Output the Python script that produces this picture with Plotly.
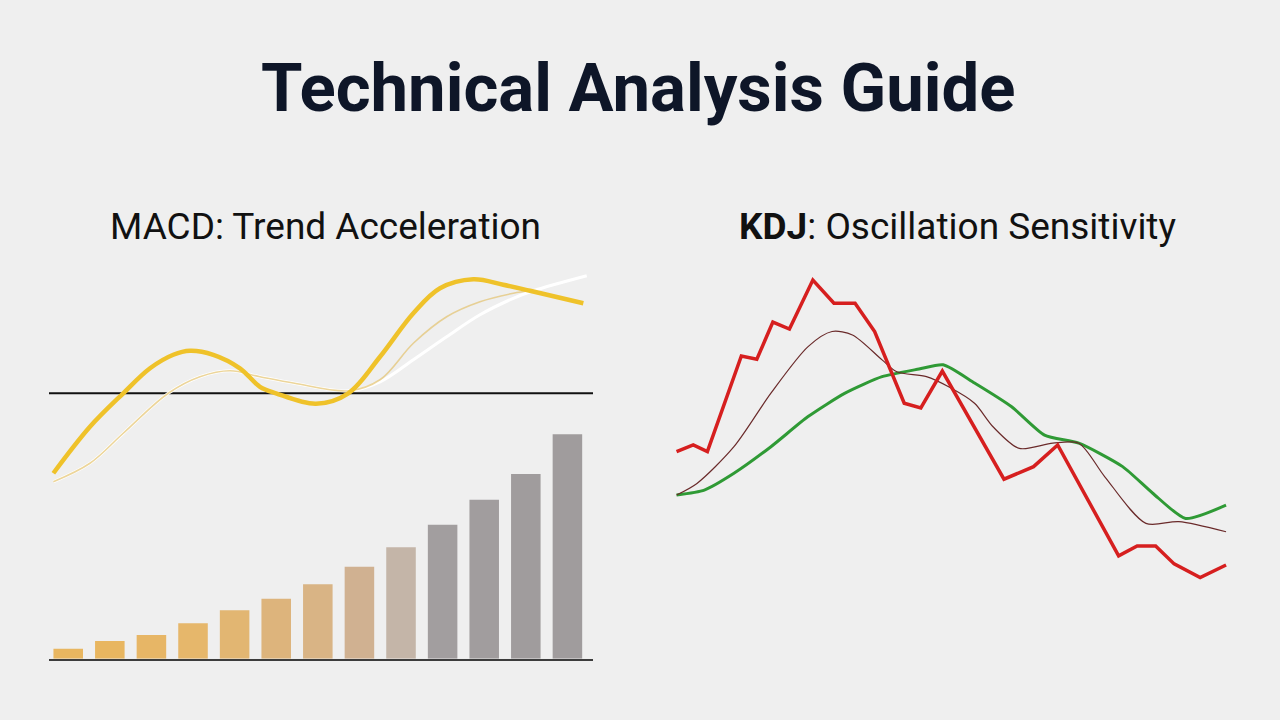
import plotly.graph_objects as go

# ---------------- data ----------------
# MACD panel (time index, value; zero line = 0)
macd_t = [0.32, 3.01, 5.46, 7.43, 9.14, 10.37, 12.08, 14.04, 15.51, 16.69, 19.63, 22.01,
          24.34, 26.79, 28.75, 31.2, 33.4, 35.37, 39.29]
macd_v = [-1.6, -0.67, 0.0, 0.5, 0.77, 0.85, 0.77, 0.5, 0.13, 0.0, -0.21, 0.0,
          0.73, 1.6, 2.1, 2.28, 2.17, 2.05, 1.8]

signal_t = [0.32, 3.01, 5.46, 8.77, 11.1, 13.31, 15.51, 18.05, 22.06, 24.34, 26.79,
            29.24, 31.69, 34.14, 35.61, 39.54]
signal_v = [-1.77, -1.4, -0.8, 0.0, 0.33, 0.45, 0.33, 0.2, 0.05, 0.23, 0.67,
            1.13, 1.57, 1.9, 2.05, 2.35]

avg_t = [0.32, 3.01, 5.46, 8.77, 11.1, 13.31, 15.51, 18.05, 22.06, 24.34, 26.79,
         29.24, 31.69, 34.14, 35.37]
avg_v = [-1.77, -1.4, -0.8, 0.0, 0.33, 0.45, 0.33, 0.2, 0.05, 0.27, 1.0,
         1.53, 1.83, 2.0, 2.05]

zero_t = [0, 40]
zero_v = [0, 0]

# Histogram bars
bar_idx = list(range(1, 14))
bar_val = [0.5, 0.89, 1.19, 1.77, 2.42, 3.0, 3.72, 4.6, 5.57, 6.7, 7.95, 9.24, 11.22]
bar_colors = ["#E8B660", "#E8B660", "#E7B666", "#E6B76B", "#E2B672", "#DDB47C", "#D9B485",
              "#D0B191", "#C4B5A8", "#A29E9F", "#A19D9E", "#A09C9D", "#A09C9D"]

# KDJ panel
j_t = [0.04, 1.26, 2.29, 4.77, 5.9, 7.07, 8.28, 9.99, 11.53, 13.07, 14.5, 16.66, 17.87,
       19.44, 23.94, 26.1, 27.86, 32.31, 33.66, 35.01, 36.36, 38.26, 40.15]
j_v = [42.4, 44.3, 42.4, 69.7, 68.8, 79.4, 77.4, 91.4, 84.8, 84.8, 76.7, 56.2, 54.9,
       65.4, 34.5, 38.1, 44.3, 12.6, 15.4, 15.4, 10.3, 6.4, 10.0]

k_t = [0.04, 1.53, 4.23, 6.93, 9.64, 11.39, 12.88, 15.04, 16.12, 18.28, 19.9, 21.79,
       23.14, 25.06, 27.5, 29.4, 31.3, 34.3, 36.7, 40.15]
k_v = [30.0, 33.3, 43.8, 59.1, 72.4, 76.7, 75.7, 68.6, 65.2, 63.8, 60.9, 56.2,
       49.5, 43.3, 44.8, 44.8, 35.2, 21.9, 22.4, 19.5]

d_t = [0.04, 2.07, 4.23, 6.93, 9.64, 12.34, 15.04, 17.74, 19.5, 21.79, 24.5, 26.9,
       29.4, 32.6, 34.8, 37.2, 40.15]
d_v = [30.0, 31.4, 36.2, 43.8, 52.4, 59.1, 63.8, 66.0, 67.2, 62.0, 55.2, 47.1,
       44.8, 38.1, 30.5, 23.3, 27.1]

title_text = "Technical Analysis Guide"
left_title = "MACD: Trend Acceleration"
right_title = "<b>KDJ</b>: Oscillation Sensitivity"

BG = "#efefef"

fig = go.Figure()

# MACD lines (axes x / y)
fig.add_trace(go.Scatter(x=zero_t, y=zero_v, mode="lines",
                         line=dict(color="#111111", width=2), xaxis="x", yaxis="y"))
fig.add_trace(go.Scatter(x=signal_t, y=signal_v, mode="lines", line_shape="spline",
                         line=dict(color="#ffffff", width=3), xaxis="x", yaxis="y"))
fig.add_trace(go.Scatter(x=avg_t, y=avg_v, mode="lines", line_shape="spline",
                         line=dict(color="rgba(226,190,100,0.65)", width=1.6), xaxis="x", yaxis="y"))
fig.add_trace(go.Scatter(x=macd_t, y=macd_v, mode="lines", line_shape="spline",
                         line=dict(color="#efc22a", width=4.5), xaxis="x", yaxis="y"))

# Histogram (axes x2 / y2)
fig.add_trace(go.Bar(x=bar_idx, y=bar_val, marker=dict(color=bar_colors, line_width=0),
                     width=0.71, xaxis="x2", yaxis="y2"))

# KDJ (axes x3 / y3)
fig.add_trace(go.Scatter(x=d_t, y=d_v, mode="lines", line_shape="spline",
                         line=dict(color="#2f9a35", width=3, smoothing=0.6), xaxis="x3", yaxis="y3"))
fig.add_trace(go.Scatter(x=k_t, y=k_v, mode="lines", line_shape="spline",
                         line=dict(color="#6a2a2a", width=1.2, smoothing=0.8), xaxis="x3", yaxis="y3"))
fig.add_trace(go.Scatter(x=j_t, y=j_v, mode="lines",
                         line=dict(color="#d61f1f", width=3.5), xaxis="x3", yaxis="y3"))

hidden = dict(visible=False, showgrid=False, zeroline=False, fixedrange=True)

fig.update_layout(
    width=1280, height=720,
    margin=dict(l=0, r=0, t=0, b=0),
    paper_bgcolor=BG, plot_bgcolor="rgba(0,0,0,0)",
    showlegend=False,
    xaxis=dict(domain=[0.03828, 0.46328], range=[0, 40], **hidden),
    yaxis=dict(domain=[0.3056, 0.6389], range=[-2.134, 2.666], **hidden),
    xaxis2=dict(domain=[0.03828, 0.46328], range=[0.538, 13.615], anchor="y2",
                showticklabels=False, showgrid=False, zeroline=False, ticks="",
                showline=True, linecolor="#3c3c3c", linewidth=2),
    yaxis2=dict(domain=[0.0851, 0.4185], range=[0, 12], anchor="x2", **hidden),
    xaxis3=dict(domain=[660 / 1280, 1240 / 1280], range=[-1.168, 41.168], anchor="y3", **hidden),
    yaxis3=dict(domain=[0.1667, 0.6528], range=[0, 100], anchor="x3", **hidden),
    annotations=[
        dict(text=f"<b>{title_text}</b>", x=637.5 / 1280, y=1 - 88 / 720, xref="paper", yref="paper",
             xanchor="center", yanchor="middle", showarrow=False,
             font=dict(family="Roboto", size=67, color="#0e1628", weight=900)),
        dict(text=left_title, x=325 / 1280, y=1 - 226 / 720, xref="paper", yref="paper",
             xanchor="center", yanchor="middle", showarrow=False,
             font=dict(family="Roboto", size=37, color="#111111")),
        dict(text=right_title, x=957 / 1280, y=1 - 226 / 720, xref="paper", yref="paper",
             xanchor="center", yanchor="middle", showarrow=False,
             font=dict(family="Roboto", size=37, color="#111111")),
    ],
)

fig.write_html("out.html")
